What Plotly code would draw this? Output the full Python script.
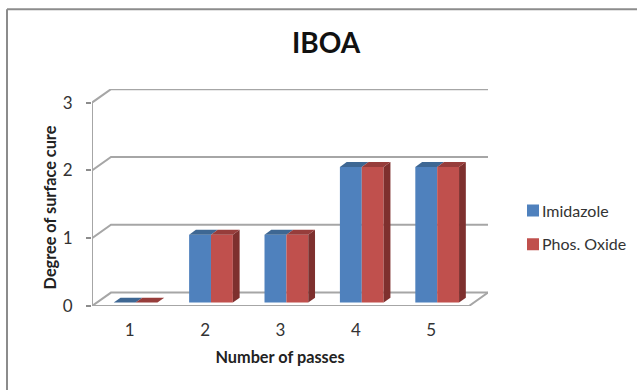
import plotly.graph_objects as go

passes = [1, 2, 3, 4, 5]
tick_labels = ["1", "2", "3", "4", "5"]
imidazole = [0, 1, 1, 2, 2]
phos_oxide = [0, 1, 1, 2, 2]
y_ticks = [0, 1, 2, 3]

BLUE, RED = "#4F81BD", "#C0504D"
BLUE_TOP, RED_TOP = "#3E6793", "#973D3B"
RED_SIDE = "#7E302E"
GRID = "#A6A6A6"

X0, X1 = 0.5, 5.5
WALL_DX, WALL_DY = 0.252, 0.198     # depth of the pseudo-3D box, axis units
BAR_W, BAR_SHIFT = 0.29, 0.078      # bar width and mid-depth shift
BAR_BASE = 0.05
FACE_DX, FACE_DY = 0.09, 0.073      # depth of each bar

fig = go.Figure()

def bar(name, vals, color, left):
    fig.add_trace(go.Bar(
        x=passes, y=vals, base=BAR_BASE, name=name, width=BAR_W,
        offset=left, marker=dict(color=color, line=dict(width=0)),
        legendgroup=name))

bar("Imidazole", imidazole, BLUE, BAR_SHIFT - BAR_W)
bar("Phos. Oxide", phos_oxide, RED, BAR_SHIFT)

def poly(xs, ys, color):
    fig.add_trace(go.Scatter(x=xs, y=ys, mode="lines", fill="toself", fillcolor=color,
                             line=dict(width=0, color=color), showlegend=False,
                             hoverinfo="skip"))

for p, a, b in zip(passes, imidazole, phos_oxide):
    l = p + BAR_SHIFT - BAR_W
    m = p + BAR_SHIFT
    r = p + BAR_SHIFT + BAR_W
    ta, tb = a + BAR_BASE, b + BAR_BASE
    if b > 0:
        poly([r, r + FACE_DX, r + FACE_DX, r],
             [BAR_BASE, BAR_BASE + FACE_DY, tb + FACE_DY, tb], RED_SIDE)
    poly([l, m, m + FACE_DX, l + FACE_DX], [ta, ta, ta + FACE_DY, ta + FACE_DY], BLUE_TOP)
    poly([m, r, r + FACE_DX, m + FACE_DX], [tb, tb, tb + FACE_DY, tb + FACE_DY], RED_TOP)

shapes = []
def seg(xs, ys, width=2, color=GRID):
    path = "M " + " L ".join(f"{x},{y}" for x, y in zip(xs, ys))
    shapes.append(dict(type="path", path=path, xref="x", yref="y", layer="below",
                       line=dict(color=color, width=width)))

for v in y_ticks:
    seg([X0, X0 + WALL_DX, X1 + WALL_DX], [v, v + WALL_DY, v + WALL_DY])
seg([X0, X1, X1 + WALL_DX], [0, 0, WALL_DY])
seg([X0, X0], [0, y_ticks[-1]])

# outer chart frame (top and left edges in view)
fx = -85 / 396
fy = 1 + 80 / 218
shapes.append(dict(type="line", xref="paper", yref="paper", x0=fx, x1=2, y0=fy, y1=fy,
                   line=dict(color="#8C8C8C", width=2)))
shapes.append(dict(type="line", xref="paper", yref="paper", x0=fx, x1=fx, y0=-2, y1=fy,
                   line=dict(color="#8C8C8C", width=2)))

FONT = "Lato, Carlito, Calibri, sans-serif"
fig.update_layout(
    width=637, height=390, autosize=False,
    margin=dict(l=92, r=149, t=88.5, b=83.5, pad=0),
    paper_bgcolor="white", plot_bgcolor="rgba(0,0,0,0)",
    font=dict(family=FONT, color="#333333", size=16),
    title=dict(text="<b>IBOA</b>", x=326/637, xanchor="center", y=1 - 43/390, yanchor="middle",
               font=dict(size=28, color="#111111", family=FONT)),
    shapes=shapes,
    showlegend=True,
    legend=dict(x=1.0, y=0.5, xanchor="left", yanchor="middle", traceorder="grouped",
                tracegroupgap=10, font=dict(size=16, color="#333333"), bgcolor="rgba(0,0,0,0)"),
    xaxis=dict(range=[X0, X1 + WALL_DX], tickmode="array", tickvals=passes, ticktext=tick_labels,
               showgrid=False, zeroline=False, showline=False, ticks="", ticklabelstandoff=12,
               automargin=False, tickfont=dict(size=17),
               title=dict(text="<b>Number of passes</b>", standoff=10,
                          font=dict(size=16.3, color="#222222"))),
    yaxis=dict(range=[0, 3.2], tickmode="array", tickvals=y_ticks, ticktext=[str(v) for v in y_ticks],
               showgrid=False, zeroline=False, showline=False, ticks="outside", ticklen=5,
               tickwidth=2, tickcolor="#8C8C8C", ticklabelstandoff=10, automargin=False,
               tickfont=dict(size=17),
               title=dict(text="<b>Degree of surface cure</b>", standoff=2,
                          font=dict(size=16.3, color="#222222"))),
)
post = """
document.body.style.margin = '0';
document.querySelectorAll('.legendtext').forEach(function (t) { t.setAttribute('x', '29'); });
var nudge = function (sel, dx, dy) {
  var el = document.querySelector(sel);
  if (el) { el.setAttribute('transform', 'translate(' + dx + ',' + dy + ') ' + (el.getAttribute('transform') || '')); }
};
nudge('.ytitle', 0, 10);
nudge('.xtitle', -10, 2);
nudge('.legend', 25, 30);
"""
fig.write_html("out.html", post_script=post, config={"displayModeBar": False})
